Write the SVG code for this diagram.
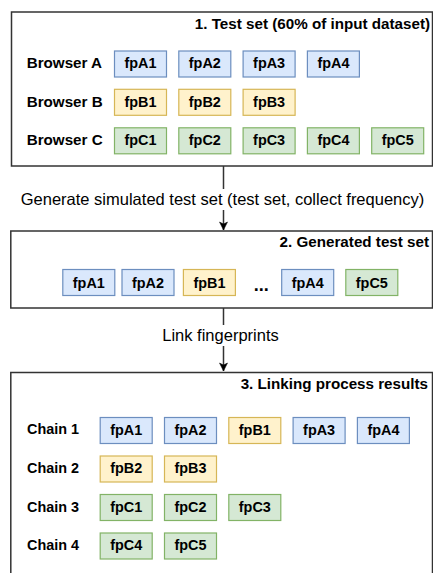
<svg xmlns="http://www.w3.org/2000/svg" width="433" height="573" viewBox="0 0 433 573">
<defs>
<style>
.frame{fill:#fff;stroke:#333;stroke-width:1.5}
.t{font-family:"Liberation Sans",Arial,sans-serif;font-size:14.4px;fill:#000}
.b{font-weight:bold}
.h{font-size:15.2px}
.l{font-size:16.5px}
.c{text-anchor:middle}
.e{text-anchor:end}
.A{fill:#dae8fc;stroke:#6c8ebf;stroke-width:1.2}
.B{fill:#fff2cc;stroke:#d6b656;stroke-width:1.2}
.C{fill:#d5e8d4;stroke:#82b366;stroke-width:1.2}
.edge{stroke:#333;stroke-width:1.5;fill:none}
</style>
<marker id="arr" markerWidth="10" markerHeight="10" refX="9" refY="5" orient="auto" markerUnits="userSpaceOnUse">
<path d="M1,1 L9,5 L1,9 L3,5 Z" fill="#000" stroke="#000" stroke-width="0.5"/>
</marker>
</defs>
<rect width="433" height="573" fill="#fff"/>

<g id="connectors">
<line class="edge" x1="223.5" y1="166" x2="223.5" y2="230" marker-end="url(#arr)"/>
<rect x="17" y="189" width="412" height="21" fill="#fff"/>
<text class="t l c" x="222.5" y="205">Generate simulated test set (test set, collect frequency)</text>
<line class="edge" x1="223.5" y1="308" x2="223.5" y2="371" marker-end="url(#arr)"/>
<rect x="160" y="325" width="121" height="21" fill="#fff"/>
<text class="t l c" x="220.5" y="341">Link fingerprints</text>
</g>

<g id="testset">
<rect class="frame" x="11.5" y="12" width="421" height="154"/>
<text class="t h b e" x="430" y="28.5">1. Test set (60% of input dataset)</text>
<text class="t h b" x="26.7" y="68">Browser A</text>
<text class="t h b" x="26.7" y="106.8">Browser B</text>
<text class="t h b" x="26.7" y="145.2">Browser C</text>
<g id="t1-fpA1"><rect class="A" x="114.5" y="51" width="52" height="26"/><text class="t b c" x="140.5" y="68">fpA1</text></g>
<g id="t1-fpA2"><rect class="A" x="178.8" y="51" width="52" height="26"/><text class="t b c" x="204.8" y="68">fpA2</text></g>
<g id="t1-fpA3"><rect class="A" x="243.1" y="51" width="52" height="26"/><text class="t b c" x="269.1" y="68">fpA3</text></g>
<g id="t1-fpA4"><rect class="A" x="307.4" y="51" width="52" height="26"/><text class="t b c" x="333.4" y="68">fpA4</text></g>
<g id="t1-fpB1"><rect class="B" x="114.5" y="89.3" width="52" height="26"/><text class="t b c" x="140.5" y="106.8">fpB1</text></g>
<g id="t1-fpB2"><rect class="B" x="178.8" y="89.3" width="52" height="26"/><text class="t b c" x="204.8" y="106.8">fpB2</text></g>
<g id="t1-fpB3"><rect class="B" x="243.1" y="89.3" width="52" height="26"/><text class="t b c" x="269.1" y="106.8">fpB3</text></g>
<g id="t1-fpC1"><rect class="C" x="114.5" y="127.8" width="52" height="26"/><text class="t b c" x="140.5" y="145.3">fpC1</text></g>
<g id="t1-fpC2"><rect class="C" x="178.8" y="127.8" width="52" height="26"/><text class="t b c" x="204.8" y="145.3">fpC2</text></g>
<g id="t1-fpC3"><rect class="C" x="243.1" y="127.8" width="52" height="26"/><text class="t b c" x="269.1" y="145.3">fpC3</text></g>
<g id="t1-fpC4"><rect class="C" x="307.4" y="127.8" width="52" height="26"/><text class="t b c" x="333.4" y="145.3">fpC4</text></g>
<g id="t1-fpC5"><rect class="C" x="371.7" y="127.8" width="52" height="26"/><text class="t b c" x="397.7" y="145.3">fpC5</text></g>
</g>

<g id="generated">
<rect class="frame" x="10.8" y="231" width="421.7" height="77"/>
<text class="t h b e" x="429" y="247">2. Generated test set</text>
<g id="g-fpA1"><rect class="A" x="62.8" y="269.5" width="52" height="26"/><text class="t b c" x="88.8" y="288">fpA1</text></g>
<g id="g-fpA2"><rect class="A" x="122" y="269.5" width="52" height="26"/><text class="t b c" x="148" y="288">fpA2</text></g>
<g id="g-fpB1"><rect class="B" x="183.4" y="269.5" width="52" height="26"/><text class="t b c" x="209.4" y="288">fpB1</text></g>
<text class="t b c" x="261.3" y="290.5" style="font-size:18px">...</text>
<g id="g-fpA4"><rect class="A" x="281.7" y="269.5" width="52" height="26"/><text class="t b c" x="307.7" y="288">fpA4</text></g>
<g id="g-fpC5"><rect class="C" x="345.8" y="269.5" width="52" height="26"/><text class="t b c" x="371.8" y="288">fpC5</text></g>
</g>

<g id="results">
<rect class="frame" x="10.8" y="372.5" width="421.7" height="210"/>
<text class="t h b e" x="428" y="389">3. Linking process results</text>
<text class="t b" x="27" y="434">Chain 1</text>
<text class="t b" x="27" y="472.7">Chain 2</text>
<text class="t b" x="27" y="511.5">Chain 3</text>
<text class="t b" x="27" y="550">Chain 4</text>
<g id="r-c1-fpA1"><rect class="A" x="100.2" y="417.5" width="52" height="26"/><text class="t b c" x="126.2" y="434.8">fpA1</text></g>
<g id="r-c1-fpA2"><rect class="A" x="164.5" y="417.5" width="52" height="26"/><text class="t b c" x="190.5" y="434.8">fpA2</text></g>
<g id="r-c1-fpB1"><rect class="B" x="228.8" y="417.5" width="52" height="26"/><text class="t b c" x="254.8" y="434.8">fpB1</text></g>
<g id="r-c1-fpA3"><rect class="A" x="293.1" y="417.5" width="52" height="26"/><text class="t b c" x="319.1" y="434.8">fpA3</text></g>
<g id="r-c1-fpA4"><rect class="A" x="357.4" y="417.5" width="52" height="26"/><text class="t b c" x="383.4" y="434.8">fpA4</text></g>
<g id="r-c2-fpB2"><rect class="B" x="100.2" y="456" width="52" height="26"/><text class="t b c" x="126.2" y="473.3">fpB2</text></g>
<g id="r-c2-fpB3"><rect class="B" x="164.5" y="456" width="52" height="26"/><text class="t b c" x="190.5" y="473.3">fpB3</text></g>
<g id="r-c3-fpC1"><rect class="C" x="100.2" y="494.5" width="52" height="26"/><text class="t b c" x="126.2" y="511.8">fpC1</text></g>
<g id="r-c3-fpC2"><rect class="C" x="164.5" y="494.5" width="52" height="26"/><text class="t b c" x="190.5" y="511.8">fpC2</text></g>
<g id="r-c3-fpC3"><rect class="C" x="228.8" y="494.5" width="52" height="26"/><text class="t b c" x="254.8" y="511.8">fpC3</text></g>
<g id="r-c4-fpC4"><rect class="C" x="100.2" y="533" width="52" height="26"/><text class="t b c" x="126.2" y="550.3">fpC4</text></g>
<g id="r-c4-fpC5"><rect class="C" x="164.5" y="533" width="52" height="26"/><text class="t b c" x="190.5" y="550.3">fpC5</text></g>
</g>
</svg>
